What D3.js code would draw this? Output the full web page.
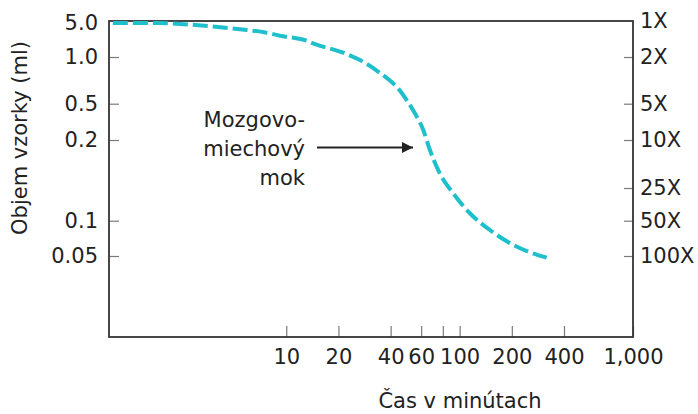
<!DOCTYPE html>
<html>
<head>
<meta charset="utf-8">
<script src="https://cdn.jsdelivr.net/npm/d3@7/dist/d3.min.js"></script>
<style>
  html, body { margin: 0; padding: 0; background: #fff; }
  svg text { font-family: "DejaVu Sans", Verdana, sans-serif; fill: #222; }
</style>
</head>
<body>
<svg id="chart" width="698" height="414"></svg>
<script>
// Elapsed time (minutes) and remaining sample volume (ml) along the CSF curve
const timeMin = [1, 1.8, 3.0, 5.4, 7.7, 9.2, 13.1, 14.3, 22.3, 26.6, 34.7, 39.6, 43.3, 49.5, 55.2, 61.7, 67.4, 76.9, 91.8, 114.6, 149.5, 203.9, 317.6];
const volumeMl = [5.0, 5.0, 4.55, 3.71, 3.16, 2.74, 2.16, 1.91, 1.15, 0.956, 0.79, 0.705, 0.644, 0.528, 0.392, 0.258, 0.1835, 0.150, 0.1265, 0.1066, 0.0833, 0.0621, 0.0484];

// Axis ticks
const volumeTicks = [5.0, 1.0, 0.5, 0.2, 0.1, 0.05];
const concTicks = [1, 2, 5, 10, 25, 50, 100];
const timeTicks = [10, 20, 40, 60, 80, 100, 200, 400, 1000];
const timeTickLabels = ["10", "20", "40", "60", "", "100", "200", "400", "1,000"];

const annotationLines = ["Mozgovo-", "miechový", "mok"];
const xTitle = "Čas v minútach";
const yTitle = "Objem vzorky (ml)";

const svg = d3.select("#chart");
const plotLeft = 109, plotRight = 633, plotTop = 21, plotBottom = 337;

// Logarithmic time axis
const x = d3.scaleLog().domain([0.95, 1000]).range([plotLeft, plotRight]);
// Piecewise log scales: the printed volume and concentration scales are stretched unevenly
const y = d3.scaleLog().domain(volumeTicks).range([23, 57, 103.7, 140, 220.7, 256]);
const yRight = d3.scaleLog().domain(concTicks).range([21, 57, 103.7, 140, 188, 220.7, 256]);

const fontSize = 21;

// Left axis
const gLeft = svg.append("g").attr("transform", `translate(${plotLeft},0)`)
  .call(d3.axisLeft(y).tickValues(volumeTicks).tickSize(-10).tickPadding(11)
    .tickFormat(d => d === 0.05 ? "0.05" : d3.format(".1f")(d)));

// Right axis
const gRight = svg.append("g").attr("transform", `translate(${plotRight},0)`)
  .call(d3.axisRight(yRight).tickValues(concTicks).tickSize(-9).tickPadding(7)
    .tickFormat(d => d + "X"));

// Bottom axis
const gBottom = svg.append("g").attr("transform", `translate(0,${plotBottom})`)
  .call(d3.axisBottom(x).tickValues(timeTicks).tickSize(-11).tickPadding(12)
    .tickFormat((d, i) => timeTickLabels[i]));

[gLeft, gRight, gBottom].forEach(g => {
  g.select(".domain").remove();
  g.selectAll(".tick line").attr("stroke", "#7a7a7a").attr("stroke-width", 1.2);
  g.selectAll(".tick text").attr("font-size", fontSize).attr("fill", "#222")
    .style("font-family", "'DejaVu Sans', Verdana, sans-serif");
});
// No tick marks at the top corners
gLeft.selectAll(".tick").filter(d => d === 5).select("line").remove();
gRight.selectAll(".tick").filter(d => d === 1).select("line").remove();

// Frame
svg.append("rect")
  .attr("x", plotLeft).attr("y", plotTop)
  .attr("width", plotRight - plotLeft).attr("height", plotBottom - plotTop)
  .attr("fill", "none").attr("stroke", "#333").attr("stroke-width", 1.8);

// Curve
const pts = timeMin.map((t, i) => [x(t), y(volumeMl[i])]);
svg.append("path")
  .attr("d", d3.line().curve(d3.curveMonotoneX)(pts))
  .attr("fill", "none")
  .attr("stroke", "#1fbfcc")
  .attr("stroke-width", 4)
  .attr("stroke-dasharray", "15,5");

// Annotation with arrow
const ann = svg.append("g");
annotationLines.forEach((t, i) => {
  ann.append("text").attr("x", 305).attr("y", 127 + i * 29)
    .attr("text-anchor", "end").attr("font-size", fontSize).text(t);
});
svg.append("defs").append("marker")
  .attr("id", "arrowhead").attr("viewBox", "0 0 10 10")
  .attr("refX", 10).attr("refY", 5)
  .attr("markerWidth", 9).attr("markerHeight", 5.5)
  .attr("markerUnits", "strokeWidth")
  .attr("orient", "auto")
  .append("path").attr("d", "M0,0 L10,5 L0,10 Z").attr("fill", "#222");
svg.append("line")
  .attr("x1", 317).attr("y1", 147.5).attr("x2", 413).attr("y2", 147.5)
  .attr("stroke", "#222").attr("stroke-width", 2)
  .attr("marker-end", "url(#arrowhead)");

// Axis titles
svg.append("text").attr("x", 460).attr("y", 408)
  .attr("text-anchor", "middle").attr("font-size", fontSize).text(xTitle);
svg.append("text").attr("transform", "translate(27,138) rotate(-90)")
  .attr("text-anchor", "middle").attr("font-size", fontSize).text(yTitle);
</script>
</body>
</html>
